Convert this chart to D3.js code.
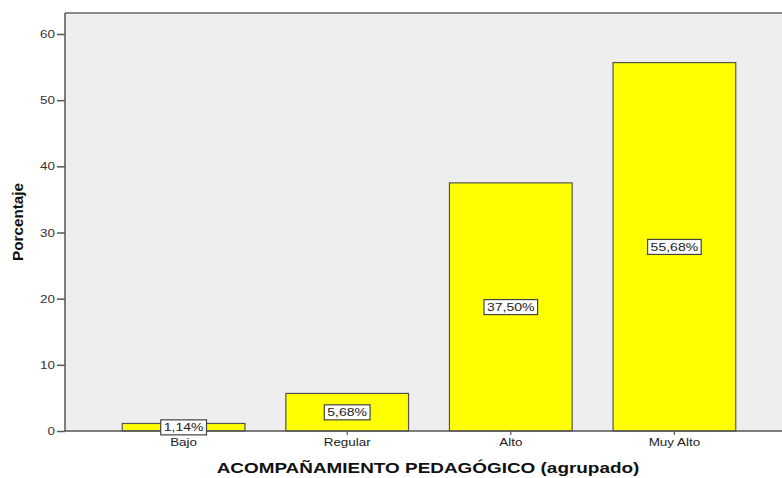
<!DOCTYPE html>
<html><head><meta charset="utf-8">
<script src="https://cdn.jsdelivr.net/npm/d3@7"></script>
<style>body{margin:0;background:#fff}svg{display:block}</style>
</head><body>
<svg id="c" width="782" height="478"></svg>
<script>
const categories = ["Bajo", "Regular", "Alto", "Muy Alto"];
const values = [1.14, 5.68, 37.50, 55.68];
const valueLabels = ["1,14%", "5,68%", "37,50%", "55,68%"];
const yTicks = [0, 10, 20, 30, 40, 50, 60];
const xTitle = "ACOMPAÑAMIENTO PEDAGÓGICO (agrupado)";
const yTitle = "Porcentaje";

const svg = d3.select("#c");
const L = 65, R = 793, T = 13, B = 431;
const y = d3.scaleLinear().domain([0, 60]).range([B, 34]);
const x = d3.scaleBand().domain(categories).range([L, R]).paddingInner(0.25).paddingOuter(0.35);
const font = "Arial, 'Liberation Sans', sans-serif";
const S = 1.22; // horizontal stretch of the reference text

function stretch(sel, k) {
  sel.each(function () {
    const w = this.getComputedTextLength();
    d3.select(this).attr("textLength", w * k).attr("lengthAdjust", "spacingAndGlyphs");
  });
}

// plot background
svg.append("rect").attr("x", L).attr("y", T).attr("width", R - L).attr("height", B - T)
  .attr("fill", "#eeeeee");
// frame top
svg.append("line").attr("x1", L).attr("x2", 782).attr("y1", T).attr("y2", T)
  .attr("stroke", "#666").attr("stroke-width", 1.5);

// bars
svg.selectAll(".bar").data(values).join("rect")
  .attr("x", (d, i) => x(categories[i]))
  .attr("y", d => y(d))
  .attr("width", x.bandwidth())
  .attr("height", d => B - y(d))
  .attr("fill", "#ffff00").attr("stroke", "#555").attr("stroke-width", 1.2);

// y axis
const ya = svg.append("g").attr("transform", `translate(${L},0)`)
  .call(d3.axisLeft(y).tickValues(yTicks).tickSize(8).tickPadding(2));
ya.select(".domain").attr("stroke", "#555").attr("stroke-width", 1.5).attr("d", `M0,${T}V${B}`);
ya.selectAll(".tick line").attr("stroke", "#555").attr("stroke-width", 1.5);
ya.selectAll("text").attr("font-family", font).attr("font-size", 11).attr("fill", "#333").call(stretch, S);

// x axis
const xa = svg.append("g").attr("transform", `translate(0,${B})`)
  .call(d3.axisBottom(x).tickSize(4).tickPadding(3));
xa.select(".domain").attr("stroke", "#555").attr("stroke-width", 1.5).attr("d", `M${L},0H782`);
xa.selectAll(".tick line").attr("stroke", "#555").attr("stroke-width", 1.2);
xa.selectAll("text").attr("font-family", font).attr("font-size", 11).attr("fill", "#222").call(stretch, S);

// value labels
const lab = svg.selectAll(".lab").data(values).join("g")
  .attr("transform", (d, i) => `translate(${x(categories[i]) + x.bandwidth() / 2},${(y(d) + B) / 2})`);
lab.append("text").text((d, i) => valueLabels[i])
  .attr("font-family", font).attr("font-size", 11.5).attr("fill", "#222")
  .attr("text-anchor", "middle").attr("dy", "0.36em").call(stretch, S);
lab.each(function () {
  const g = d3.select(this);
  const bb = g.select("text").node().getBBox();
  g.insert("rect", "text").attr("x", bb.x - 3).attr("y", bb.y - 1.5)
    .attr("width", bb.width + 6).attr("height", bb.height + 3)
    .attr("fill", "#fff").attr("stroke", "#444").attr("stroke-width", 1.2);
});

// titles
svg.append("text").text(xTitle).attr("x", 428).attr("y", 473)
  .attr("text-anchor", "middle").attr("font-family", font).attr("font-weight", "bold")
  .attr("font-size", 15.5).attr("fill", "#111").call(stretch, S);
svg.append("text").text(yTitle).attr("transform", `translate(23,${(T + B) / 2}) rotate(-90)`)
  .attr("text-anchor", "middle").attr("font-family", font).attr("font-weight", "bold")
  .attr("font-size", 15).attr("textLength", 78).attr("lengthAdjust", "spacingAndGlyphs").attr("fill", "#111");
</script>
</body></html>
